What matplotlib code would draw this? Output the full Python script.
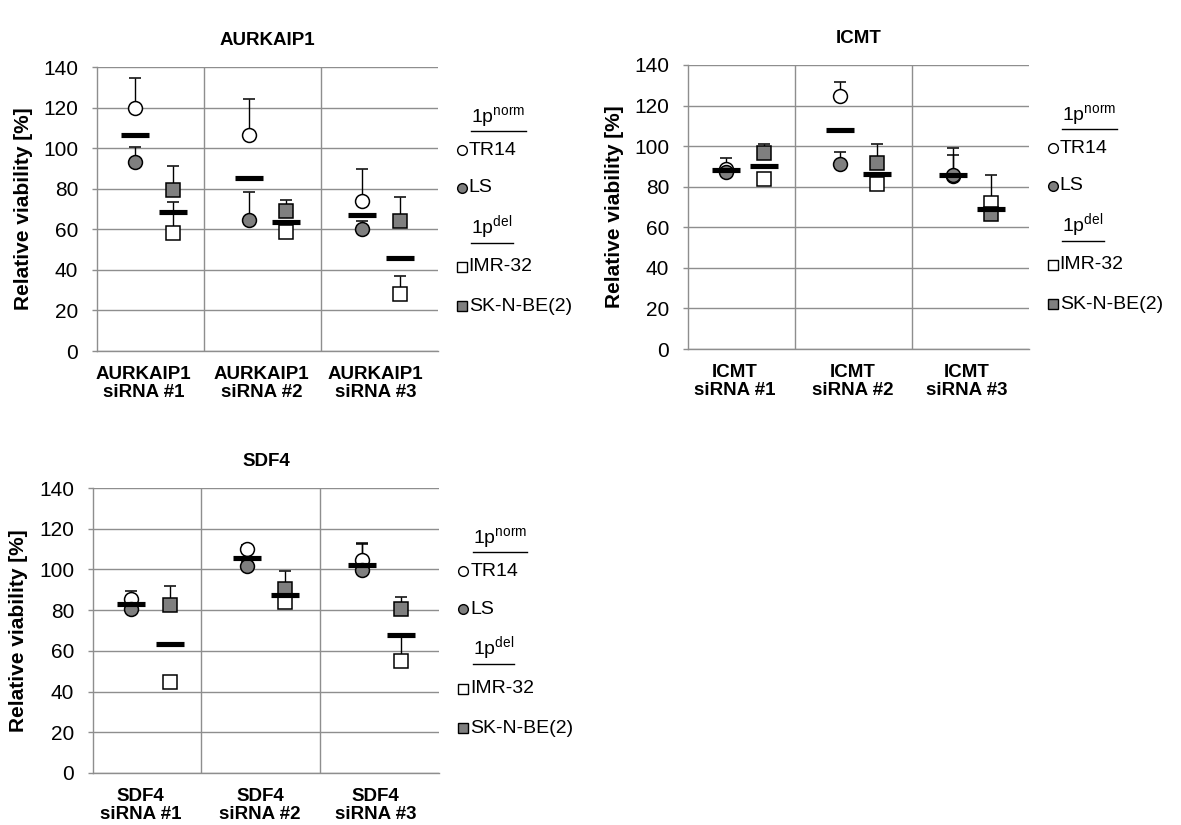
import numpy as np
import matplotlib.pyplot as plt
from matplotlib.lines import Line2D

plt.rcParams['font.family'] = ['Liberation Sans', 'DejaVu Sans']
plt.rcParams['mathtext.fontset'] = 'custom'
plt.rcParams['mathtext.rm'] = 'Liberation Sans'

# relative viability [%] per cell line and siRNA, upper error
aurk_tr14 = [120, 106.5, 74]
aurk_tr14_err = [14.5, 17.5, 15.5]
aurk_ls = [93, 64.5, 60]
aurk_ls_err = [7.5, 14, 4]
aurk_imr = [58, 58.5, 28]
aurk_imr_err = [15.5, 3, 9]
aurk_sk = [79.5, 69, 64]
aurk_sk_err = [11.5, 5.5, 12]

icmt_tr14 = [88.5, 124.5, 85.5]
icmt_tr14_err = [5.5, 7, 13.5]
icmt_ls = [87.5, 91, 86]
icmt_ls_err = [2, 6, 9.5]
icmt_imr = [84, 81.5, 72]
icmt_imr_err = [3, 3, 14]
icmt_sk = [96.5, 91.5, 66.5]
icmt_sk_err = [4.5, 9.5, 2]

sdf4_tr14 = [85.5, 110, 104.5]
sdf4_tr14_err = [4, 2, 8.5]
sdf4_ls = [80.5, 101.5, 99.5]
sdf4_ls_err = [2, 2, 13]
sdf4_imr = [44.5, 84, 55]
sdf4_imr_err = [2, 2, 12.5]
sdf4_sk = [82.5, 90.5, 80.5]
sdf4_sk_err = [9.5, 8.5, 6]

W, H = 1181, 825
gridc = '#8e8e8e'
fillc = '#7f7f7f'


def px_box(l, t, w, h):
    return [l / W, 1 - (t + h) / H, w / W, h / H]


fig = plt.figure(figsize=(W / 100, H / 100), dpi=100)
headings = []


def panel(box, gene, tr14, tr14_err, ls, ls_err, imr, imr_err, sk, sk_err):
    ax = fig.add_axes(px_box(*box))
    x = np.arange(3)
    xc = x + 1 / 3
    xs = x + 2 / 3
    ax.set_xlim(0, 3)
    ax.set_ylim(0, 140)
    ax.set_yticks(range(0, 141, 20))
    ax.grid(axis='y', color=gridc, lw=1.0, zorder=0)
    for xv in (0.94, 1.97):
        ax.axvline(xv, color=gridc, lw=1.0, zorder=0)
    for s in ('top', 'right'):
        ax.spines[s].set_visible(False)
    for s in ('left', 'bottom'):
        ax.spines[s].set_color(gridc)
        ax.spines[s].set_linewidth(1.0)
    ax.tick_params(axis='y', length=3.6, width=1.0, color=gridc, pad=10, labelsize=15)
    ax.set_xticks([0.41, 1.45, 2.45])
    ax.set_xticklabels([f'{gene}\nsiRNA #{i}' for i in (1, 2, 3)],
                       fontsize=13.5, fontweight='bold', linespacing=1.05)
    ax.tick_params(axis='x', length=0, pad=11)
    ax.set_ylabel('Relative viability [%]', fontsize=15, fontweight='bold')
    ax.yaxis.set_label_coords(-0.188, 0.5)
    ax.set_title(gene, fontsize=13.5, fontweight='bold', pad=16)

    eb = dict(fmt='none', ecolor='black', elinewidth=1.0, capsize=4.3, capthick=1.1, zorder=2)
    z = np.zeros(3)
    ax.errorbar(xc, tr14, yerr=[z, tr14_err], **eb)
    ax.errorbar(xc, ls, yerr=[z, ls_err], **eb)
    ax.errorbar(xs, imr, yerr=[z, imr_err], **eb)
    ax.errorbar(xs, sk, yerr=[z, sk_err], **eb)

    mk = dict(ls='none', ms=10, mec='black', mew=1.1, zorder=3)
    ax.plot(xc, tr14, 'o', mfc='white', **mk)
    ax.plot(xc, ls, 'o', mfc=fillc, **mk)
    ax.plot(xs, imr, 's', mfc='white', **mk)
    ax.plot(xs, sk, 's', mfc=fillc, **mk)

    # mean of the 1p-normal and 1p-deleted lines
    ax.plot(xc, np.mean([tr14, ls], axis=0), '_', color='black', ms=19.5, mew=3.7, zorder=4)
    ax.plot(xs, np.mean([imr, sk], axis=0), '_', color='black', ms=19.5, mew=3.7, zorder=4)

    # legend beside the plot
    tr = ax.get_yaxis_transform()
    xm, xt, xh = 1.07, 1.09, 1.098
    for yv, lab in ((115, r'1p$^{\mathrm{norm}}$'), (61, r'1p$^{\mathrm{del}}$')):
        t = ax.text(xh, yv, lab, transform=tr, fontsize=14, va='center', ha='left')
        headings.append(t)
    entries = [(99, 'o', 'white', 'TR14'), (80.5, 'o', fillc, 'LS'),
               (41.5, 's', 'white', 'IMR-32'), (22, 's', fillc, 'SK-N-BE(2)')]
    for yv, m, fc, lab in entries:
        ax.plot([xm], [yv], m, transform=tr, ms=7, mfc=fc, mec='black', mew=1.0, clip_on=False)
        ax.text(xt, yv, lab, transform=tr, fontsize=14, va='center', ha='left')
    return ax


panel([97, 67, 341, 284], 'AURKAIP1', aurk_tr14, aurk_tr14_err, aurk_ls, aurk_ls_err,
      aurk_imr, aurk_imr_err, aurk_sk, aurk_sk_err)
panel([688, 65, 341, 284], 'ICMT', icmt_tr14, icmt_tr14_err, icmt_ls, icmt_ls_err,
      icmt_imr, icmt_imr_err, icmt_sk, icmt_sk_err)
panel([93, 488, 346, 285], 'SDF4', sdf4_tr14, sdf4_tr14_err, sdf4_ls, sdf4_ls_err,
      sdf4_imr, sdf4_imr_err, sdf4_sk, sdf4_sk_err)

# underline the group headings
fig.canvas.draw()
inv = fig.transFigure.inverted()
for t in headings:
    bb = t.get_window_extent()
    (x0, y0), (x1, _) = inv.transform([(bb.x0, bb.y0 - 1), (bb.x1, bb.y0 - 1)])
    fig.add_artist(Line2D([x0, x1], [y0, y0], color='black', lw=1.0, transform=fig.transFigure))

fig.savefig('out.png', dpi=100)
